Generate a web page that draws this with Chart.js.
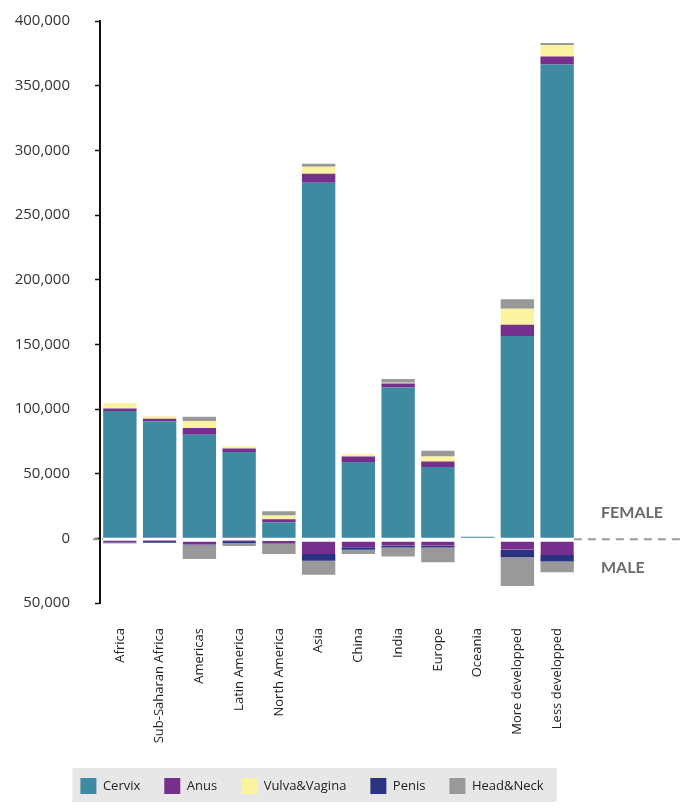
<!DOCTYPE html>
<html>
<head>
<meta charset="utf-8">
<script src="https://cdn.jsdelivr.net/npm/chart.js@4.4.1/dist/chart.umd.min.js"></script>
<style>
    html, body { margin: 0; padding: 0; background: #fff; }
    #wrap { width: 690px; height: 810px; position: relative; }
</style>
</head>
<body>
<div id="wrap"><canvas id="chart"></canvas></div>
<script>
const regions = ['Africa', 'Sub-Saharan Africa', 'Americas', 'Latin America', 'North America', 'Asia',
    'China', 'India', 'Europe', 'Oceania', 'More developped', 'Less developped'];

// female cases (positive side)
const cervix      = [98500, 90400, 80100, 66700, 12200, 274900, 59000, 116700, 55100, 1200, 156500, 366300];
const anusFemale  = [1800, 2100, 5200, 2800, 2600, 7000, 4300, 3000, 4300, 0, 8700, 6200];
const vulvaVagina = [4400, 1800, 5400, 1900, 2800, 5400, 2100, 600, 3900, 0, 12400, 9000];
const headFemale  = [0, 0, 3300, 0, 3400, 2300, 0, 2900, 4400, 0, 7200, 1500];

// male cases (negative side)
const anusMale    = [-3300, -3000, -5000, -2900, -3700, -12200, -6800, -5800, -5800, 0, -8900, -12800];
const penis       = [-500, -700, -400, -800, -300, -5200, -2100, -1300, -1300, 0, -5700, -5200];
const headMale    = [0, 0, -10500, -2300, -8200, -10800, -3300, -7000, -11300, 0, -22200, -8200];

const yTicks = { min: -50000, max: 400000, step: 50000 };

const COLORS = {
    cervix: '#3E8AA0',
    anus: '#762F8C',
    vulva: '#FCF3A0',
    penis: '#2A3381',
    head: '#999999',
};

Chart.defaults.font.family = "'Open Sans', sans-serif";
Chart.defaults.color = '#222';

function barSet(label, data, color, extra) {
    return Object.assign({
        label: label,
        data: data,
        backgroundColor: color,
        borderWidth: 0,
        barPercentage: 0.84,
        categoryPercentage: 1.0,
    }, extra || {});
}

// dashed zero line, FEMALE / MALE tags and grey legend panel
const sexLinePlugin = {
    id: 'sexLine',
    afterLayout(chart) {
        const lg = chart.legend;
        const dx = 312 - (lg.left + lg.right) / 2;
        lg.left += dx;
        lg.right += dx;
    },
    beforeDraw(chart) {
        const boxes = chart.legend.legendHitBoxes;
        if (!boxes || !boxes.length) return;
        const first = boxes[0];
        const last = boxes[boxes.length - 1];
        const ctx = chart.ctx;
        const x0 = first.left - 8;
        const x1 = last.left + last.width + 13;
        ctx.save();
        ctx.fillStyle = '#e7e7e7';
        ctx.fillRect(x0, first.top - 10, x1 - x0, first.height + 18);
        ctx.restore();
    },
    afterDatasetsDraw(chart) {
        const ctx = chart.ctx;
        const zero = chart.scales.y.getPixelForValue(0);
        const bars = chart.getDatasetMeta(0).data;
        const firstBar = bars[0];
        const lastBar = bars[bars.length - 1];
        const y = zero + 1;

        ctx.save();
        ctx.strokeStyle = '#9a9a9a';
        ctx.lineWidth = 2;
        ctx.setLineDash([5, 4]);
        ctx.beginPath();
        ctx.moveTo(chart.chartArea.left - 7, y);
        ctx.lineTo(firstBar.x - firstBar.width / 2, y);
        ctx.stroke();
        ctx.setLineDash([8, 6]);
        ctx.beginPath();
        ctx.moveTo(lastBar.x + lastBar.width / 2, y);
        ctx.lineTo(682, y);
        ctx.stroke();

        ctx.setLineDash([]);
        ctx.fillStyle = '#6b6b6b';
        ctx.font = "bold 16px Lato, 'Open Sans', sans-serif";
        ctx.textAlign = 'left';
        ctx.textBaseline = 'middle';
        ctx.fillText('FEMALE', 601, zero - 25);
        ctx.fillText('MALE', 601, zero + 30);
        ctx.restore();
    }
};

new Chart(document.getElementById('chart'), {
    type: 'bar',
    data: {
        labels: regions,
        datasets: [
            barSet('Cervix', cervix, COLORS.cervix),
            barSet('Anus', anusFemale, COLORS.anus),
            barSet('Vulva&Vagina', vulvaVagina, COLORS.vulva),
            barSet('Anus', anusMale, COLORS.anus, {
                hideInLegend: true,
                borderSkipped: false,
                borderColor: '#ffffff',
                borderWidth: { top: 3, right: 0, bottom: 0, left: 0 },
            }),
            barSet('Penis', penis, COLORS.penis),
            barSet('Head&Neck', headFemale, COLORS.head),
            barSet('Head&Neck', headMale, COLORS.head, { hideInLegend: true }),
        ]
    },
    options: {
        responsive: true,
        maintainAspectRatio: false,
        animation: false,
        layout: { padding: { top: 21, right: 113, bottom: 6, left: 0 } },
        plugins: {
            tooltip: { enabled: false },
            legend: {
                position: 'bottom',
                labels: {
                    boxWidth: 16,
                    boxHeight: 16,
                    padding: 24,
                    color: '#222',
                    font: { size: 13 },
                    filter: (item, data) => !data.datasets[item.datasetIndex].hideInLegend,
                    generateLabels: (chart) => Chart.defaults.plugins.legend.labels.generateLabels(chart)
                        .map(l => Object.assign(l, { lineWidth: 0 })),
                }
            }
        },
        scales: {
            x: {
                stacked: true,
                afterFit: (s) => { s.height = 151; },
                grid: { display: false, drawTicks: false },
                border: { display: false },
                ticks: {
                    minRotation: 90,
                    maxRotation: 90,
                    autoSkip: false,
                    padding: 25,
                    color: '#222',
                    font: { size: 13 }
                }
            },
            y: {
                stacked: true,
                min: yTicks.min,
                max: yTicks.max,
                afterFit: (s) => {
                    s.width = 100;
                    s.paddingTop = 10;
                    s.paddingBottom = 10;
                },
                border: { display: true, color: '#111', width: 2 },
                grid: { drawOnChartArea: false, drawTicks: true, tickLength: 5, color: '#111', tickWidth: 1.5 },
                ticks: {
                    stepSize: yTicks.step,
                    padding: 25,
                    color: '#333',
                    font: { size: 15 },
                    callback: (v) => Math.abs(v).toLocaleString('en-US')
                }
            }
        }
    },
    plugins: [sexLinePlugin]
});
</script>
</body>
</html>
